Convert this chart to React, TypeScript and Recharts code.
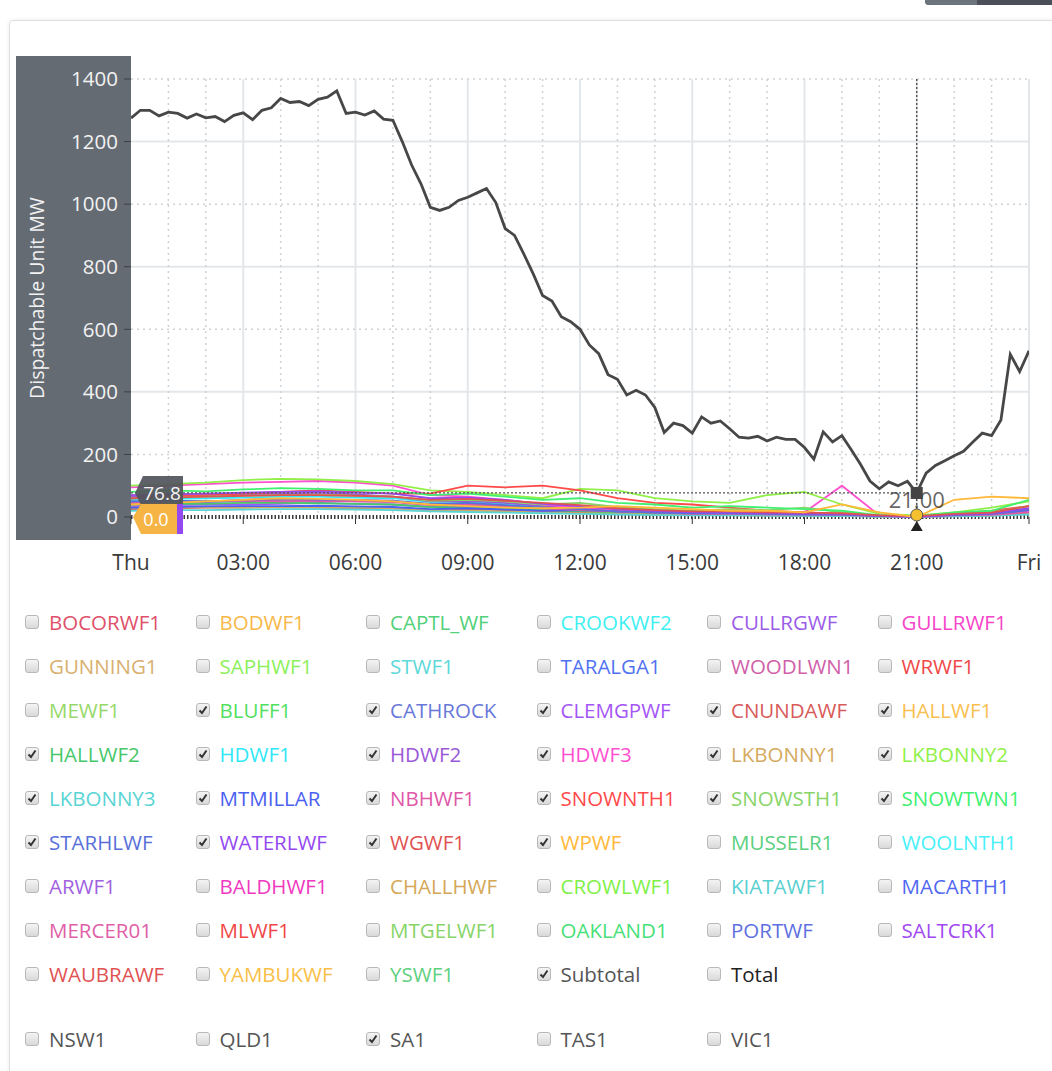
import React from 'react';
import { LineChart, Line, XAxis, YAxis, CartesianGrid, ReferenceLine, ReferenceDot, Label } from 'recharts';

// x axis: hours from Thu 00:00 to Fri 00:00
const hourTicks = [0, 3, 6, 9, 12, 15, 18, 21, 24];
const hourTickLabels = ['Thu', '03:00', '06:00', '09:00', '12:00', '15:00', '18:00', '21:00', 'Fri'];
const mwTicks = [0, 200, 400, 600, 800, 1000, 1200, 1400];

const solidGridY = [400, 800, 1200];
const dottedGridY = [200, 600, 1000, 1400];
const solidGridX = [3, 6, 9, 12, 15, 18, 21, 24];
const dottedGridX = [1, 2, 4, 5, 7, 8, 10, 11, 13, 14, 16, 17, 19, 20, 22, 23];

// Subtotal of the ticked SA1 units, one value every 15 minutes
const subtotalMW = [
  1275, 1300, 1300, 1282, 1294, 1290, 1275, 1288, 1276, 1280, 1264, 1284,
  1292, 1270, 1300, 1308, 1338, 1325, 1328, 1315, 1335, 1342, 1362, 1290,
  1294, 1285, 1298, 1272, 1268, 1200, 1125, 1065, 990, 980, 990, 1012,
  1022, 1036, 1050, 1005, 922, 900, 840, 777, 708, 690, 640, 624,
  600, 550, 522, 455, 440, 390, 405, 390, 350, 270, 300, 292,
  268, 320, 300, 307, 282, 255, 252, 258, 243, 255, 248, 248,
  222, 185, 272, 240, 260, 215, 168, 115, 90, 112, 100, 114,
  76.8, 140, 165, 180, 196, 210, 240, 268, 260, 310, 520, 465,
  531,
];

// hourly output of each ticked wind farm (MW), hour 0..24
const windHours = [0, 1, 2, 3, 4, 5, 6, 7, 8, 9, 10, 11, 12, 13, 14, 15, 16, 17, 18, 19, 20, 21, 22, 23, 24];
const BLUFF1 = [45, 48, 50, 52, 55, 55, 52, 50, 40, 45, 40, 30, 25, 20, 18, 15, 20, 15, 12, 10, 4, 2, 8, 12, 25];
const CATHROCK = [50, 52, 48, 50, 55, 55, 50, 50, 40, 38, 35, 25, 20, 15, 12, 10, 10, 8, 8, 6, 3, 2, 5, 8, 20];
const CLEMGPWF = [35, 38, 40, 40, 42, 45, 42, 40, 32, 35, 28, 20, 15, 12, 10, 8, 8, 6, 6, 5, 2, 0, 4, 8, 18];
const CNUNDAWF = [25, 28, 30, 30, 32, 30, 28, 28, 22, 25, 22, 18, 15, 10, 8, 6, 6, 5, 4, 4, 2, 1, 3, 5, 12];
const HALLWF1 = [70, 72, 75, 70, 75, 72, 70, 65, 55, 50, 45, 35, 30, 25, 20, 18, 15, 12, 10, 8, 5, 3, 10, 15, 25];
const HALLWF2 = [40, 42, 42, 45, 45, 44, 42, 40, 32, 30, 28, 22, 18, 12, 10, 8, 8, 6, 5, 4, 2, 1, 4, 6, 14];
const HDWF1 = [55, 58, 60, 62, 65, 65, 62, 60, 48, 50, 42, 32, 25, 20, 15, 12, 12, 10, 8, 8, 3, 2, 6, 8, 20];
const HDWF2 = [65, 68, 70, 72, 75, 78, 72, 65, 50, 52, 45, 35, 28, 22, 18, 14, 12, 10, 10, 8, 3, 2, 8, 10, 24];
const HDWF3 = [95, 100, 105, 110, 112, 115, 110, 100, 70, 65, 55, 40, 30, 20, 15, 12, 10, 8, 15, 100, 5, 2, 5, 10, 20];
const LKBONNY1 = [30, 30, 32, 30, 32, 32, 30, 28, 22, 20, 18, 14, 12, 10, 8, 6, 6, 5, 5, 4, 2, 1, 3, 5, 10];
const LKBONNY2 = [100, 105, 110, 118, 122, 120, 115, 105, 85, 80, 70, 60, 90, 85, 60, 50, 45, 70, 80, 40, 10, 5, 15, 30, 50];
const LKBONNY3 = [20, 22, 22, 24, 25, 25, 24, 22, 18, 16, 14, 12, 10, 8, 6, 5, 5, 4, 4, 3, 1, 1, 2, 4, 8];
const MTMILLAR = [30, 32, 34, 35, 35, 36, 34, 32, 25, 28, 24, 20, 22, 18, 15, 12, 14, 12, 10, 10, 4, 2, 8, 12, 22];
const NBHWF1 = [45, 48, 50, 52, 50, 52, 50, 48, 38, 40, 35, 28, 22, 18, 14, 10, 10, 8, 8, 6, 3, 2, 5, 7, 15];
const SNOWNTH1 = [60, 65, 70, 75, 80, 85, 80, 75, 75, 100, 95, 100, 85, 60, 45, 40, 30, 20, 15, 10, 5, 3, 10, 20, 35];
const SNOWSTH1 = [60, 62, 65, 68, 70, 70, 68, 65, 52, 55, 50, 40, 45, 32, 25, 20, 25, 22, 30, 15, 5, 2, 10, 15, 35];
const SNOWTWN1 = [80, 85, 82, 88, 92, 90, 85, 85, 70, 75, 65, 55, 60, 45, 40, 30, 35, 30, 25, 20, 5, 3, 15, 20, 55];
const STARHLWF = [50, 52, 50, 55, 58, 56, 55, 52, 42, 45, 38, 30, 25, 18, 14, 12, 12, 10, 8, 8, 3, 2, 6, 10, 22];
const WATERLWF = [70, 72, 75, 78, 80, 82, 78, 75, 60, 62, 55, 42, 35, 26, 20, 15, 14, 12, 10, 10, 4, 0, 8, 12, 28];
const WGWF1 = [60, 62, 65, 68, 70, 70, 68, 65, 55, 58, 52, 45, 38, 28, 22, 18, 18, 15, 14, 12, 5, 3, 10, 14, 35];
const WPWF = [40, 45, 50, 55, 60, 58, 55, 50, 40, 35, 30, 28, 30, 35, 30, 25, 20, 20, 15, 40, 15, 0, 55, 65, 60];

const units: [string, number[]][] = [
  ['BLUFF1', BLUFF1], ['CATHROCK', CATHROCK], ['CLEMGPWF', CLEMGPWF], ['CNUNDAWF', CNUNDAWF],
  ['HALLWF1', HALLWF1], ['HALLWF2', HALLWF2], ['HDWF1', HDWF1], ['HDWF2', HDWF2], ['HDWF3', HDWF3],
  ['LKBONNY1', LKBONNY1], ['LKBONNY2', LKBONNY2], ['LKBONNY3', LKBONNY3], ['MTMILLAR', MTMILLAR],
  ['NBHWF1', NBHWF1], ['SNOWNTH1', SNOWNTH1], ['SNOWSTH1', SNOWSTH1], ['SNOWTWN1', SNOWTWN1],
  ['STARHLWF', STARHLWF], ['WATERLWF', WATERLWF], ['WGWF1', WGWF1], ['WPWF', WPWF],
];

// legend rows as shown under the chart
const legendRows = [
  ['BOCORWF1', 'BODWF1', 'CAPTL_WF', 'CROOKWF2', 'CULLRGWF', 'GULLRWF1'],
  ['GUNNING1', 'SAPHWF1', 'STWF1', 'TARALGA1', 'WOODLWN1', 'WRWF1'],
  ['MEWF1', 'BLUFF1', 'CATHROCK', 'CLEMGPWF', 'CNUNDAWF', 'HALLWF1'],
  ['HALLWF2', 'HDWF1', 'HDWF2', 'HDWF3', 'LKBONNY1', 'LKBONNY2'],
  ['LKBONNY3', 'MTMILLAR', 'NBHWF1', 'SNOWNTH1', 'SNOWSTH1', 'SNOWTWN1'],
  ['STARHLWF', 'WATERLWF', 'WGWF1', 'WPWF', 'MUSSELR1', 'WOOLNTH1'],
  ['ARWF1', 'BALDHWF1', 'CHALLHWF', 'CROWLWF1', 'KIATAWF1', 'MACARTH1'],
  ['MERCER01', 'MLWF1', 'MTGELWF1', 'OAKLAND1', 'PORTWF', 'SALTCRK1'],
  ['WAUBRAWF', 'YAMBUKWF', 'YSWF1', 'Subtotal', 'Total'],
];
const regions = ['NSW1', 'QLD1', 'SA1', 'TAS1', 'VIC1'];
const checkedRegions = ['SA1'];

const colors: Record<string, string> = {
  BOCORWF1: '#e0506a', BODWF1: '#f7b84a', CAPTL_WF: '#52d07a', CROOKWF2: '#3ef0f0', CULLRGWF: '#9b5ce8', GULLRWF1: '#f545c8',
  GUNNING1: '#d8b070', SAPHWF1: '#8cf05a', STWF1: '#5ed8d8', TARALGA1: '#5072f0', WOODLWN1: '#d060a8', WRWF1: '#f04848',
  MEWF1: '#98d86a', BLUFF1: '#52e060', CATHROCK: '#6878d8', CLEMGPWF: '#a455f5', CNUNDAWF: '#d85a5a', HALLWF1: '#f8c050',
  HALLWF2: '#48c86a', HDWF1: '#30e8f8', HDWF2: '#9a58d8', HDWF3: '#ff50d0', LKBONNY1: '#d4aa60', LKBONNY2: '#90f048',
  LKBONNY3: '#58d4d4', MTMILLAR: '#4a60f0', NBHWF1: '#e058a8', SNOWNTH1: '#ff4a4a', SNOWSTH1: '#88d468', SNOWTWN1: '#40f070',
  STARHLWF: '#5870d8', WATERLWF: '#9448f0', WGWF1: '#e05252', WPWF: '#ffb838', MUSSELR1: '#5ad080', WOOLNTH1: '#48f0f8',
  ARWF1: '#a060e0', BALDHWF1: '#f038c0', CHALLHWF: '#d4a858', CROWLWF1: '#80f048', KIATAWF1: '#58d0d0', MACARTH1: '#5068f0',
  MERCER01: '#e060a8', MLWF1: '#f04848', MTGELWF1: '#88d468', OAKLAND1: '#48e078', PORTWF: '#6070e0', SALTCRK1: '#a048f0',
  WAUBRAWF: '#e05252', YAMBUKWF: '#f8c048', YSWF1: '#60d080', Subtotal: '#555555', Total: '#222222',
};

const subtotalRows = subtotalMW.map((v, i) => ({ t: i / 4, v }));
const unitRows = (vals: number[]) => windHours.map((t, i) => ({ t, v: vals[i] }));
const checkedUnits = units.map((u) => u[0]).concat(['Subtotal']);

const FONT = '"Open Sans", "Noto Sans", sans-serif';

function CheckBox({ checked }: { checked: boolean }) {
  return (
    <div style={{
      width: 14, height: 14, boxSizing: 'border-box', border: '1px solid #b8b8b8', borderRadius: 3,
      background: 'linear-gradient(#f4f4f4, #d9d9d9)', flex: 'none', position: 'relative',
    }}>
      {checked && (
        <svg width={14} height={14} style={{ position: 'absolute', left: -1, top: -1 }}>
          <path d="M3.5 7.5 L6 10 L10.5 3.5" stroke="#333" strokeWidth={2} fill="none" />
        </svg>
      )}
    </div>
  );
}

function LegendItem({ name, checked, color, left, top }: { name: string; checked: boolean; color: string; left: number; top: number }) {
  return (
    <div style={{ position: 'absolute', left, top, height: 24, display: 'flex', alignItems: 'center' }}>
      <CheckBox checked={checked} />
      <span style={{ marginLeft: 10, fontSize: 20.5, color, whiteSpace: 'nowrap', fontFamily: FONT }}>{name}</span>
    </div>
  );
}

const YValueTag = (props: any) => {
  const { cx, cy } = props;
  return (
    <g>
      <path d={`M${cx + 4} ${cy} L${cx + 12} ${cy - 17} L${cx + 52} ${cy - 17} L${cx + 52} ${cy + 16} L${cx + 12} ${cy + 16} Z`} fill="#50555b" fillOpacity={0.92} />
      <text x={cx + 31} y={cy + 7} textAnchor="middle" fill="#f4f4f4" fontSize={19} fontFamily={FONT}>76.8</text>
    </g>
  );
};

const ZeroTag = (props: any) => {
  const { cx, cy } = props;
  return (
    <g>
      <path d={`M${cx + 10} ${cy} L${cx + 18} ${cy - 13} L${cx + 52} ${cy - 13} L${cx + 52} ${cy + 17} L${cx + 18} ${cy + 17} Z`} fill="#9448f0" />
      <path d={`M${cx + 2} ${cy} L${cx + 10} ${cy - 13} L${cx + 46} ${cy - 13} L${cx + 46} ${cy + 17} L${cx + 10} ${cy + 17} Z`} fill="#f5b444" />
      <text x={cx + 25} y={cy + 9} textAnchor="middle" fill="#ffffff" fontSize={18} fontFamily={FONT}>0.0</text>
    </g>
  );
};

const CursorMarks = (props: any) => {
  const { cx, cy } = props;
  return (
    <g>
      <path d={`M${cx - 6} ${cy + 14} L${cx + 6} ${cy + 14} L${cx} ${cy + 4} Z`} fill="#222" />
      <circle cx={cx} cy={cy - 2} r={6} fill="#f5c030" stroke="#555" strokeWidth={1} />
    </g>
  );
};

const SubtotalMark = (props: any) => {
  const { cx, cy } = props;
  return <rect x={cx - 6} y={cy - 6} width={12} height={12} fill="#444" />;
};

const TimeTag = (props: any) => {
  const { cx, cy } = props;
  return (
    <text x={cx} y={cy} textAnchor="middle" fill="#3c3c3c" fillOpacity={0.8} fontSize={22} fontFamily={FONT}>21:00</text>
  );
};

export default function App() {
  return (
    <div style={{ position: 'absolute', left: 0, top: 0, width: 1052, height: 1071, overflow: 'hidden', background: '#fff', fontFamily: FONT }}>
      <div style={{ position: 'absolute', left: 925, top: -6, width: 140, height: 11, background: '#4b5058', borderRadius: 4 }} />
      <div style={{ position: 'absolute', left: 925, top: -6, width: 52, height: 11, background: '#6e747c', borderRadius: '4px 0 0 4px' }} />
      <div style={{ position: 'absolute', left: 9, top: 20, width: 1100, height: 1100, border: '1px solid #e0e0e0', borderRadius: 4, boxShadow: '0 0 4px rgba(0,0,0,0.08)' }} />
      <div style={{ position: 'absolute', left: 16, top: 56, width: 115, height: 484, background: '#656b72' }} />
      <div style={{ position: 'absolute', left: 0, top: 0 }}>
        <LineChart width={1052} height={600} margin={{ top: 79, right: 23, bottom: 43, left: 16 }}>
          <CartesianGrid horizontalValues={solidGridY} verticalValues={solidGridX} stroke="#e4e7ea" strokeWidth={2} />
          <CartesianGrid horizontalValues={dottedGridY} verticalValues={dottedGridX} stroke="#cfd2d5" strokeWidth={1.5} strokeDasharray="2 4" />
          <XAxis
            dataKey="t"
            type="number"
            domain={[0, 24]}
            ticks={hourTicks}
            allowDataOverflow
            tickFormatter={(v: number) => hourTickLabels[hourTicks.indexOf(v)]}
            tick={{ fontSize: 21, fill: '#3a3a3a', fontFamily: FONT }}
            axisLine={false}
            tickLine={{ stroke: '#333' }}
            tickSize={7}
            tickMargin={31}
            height={40}
          />
          <YAxis
            type="number"
            domain={[0, 1400]}
            ticks={mwTicks}
            width={115}
            tick={{ fontSize: 20.5, fill: '#f2f2f2', fontFamily: FONT }}
            axisLine={false}
            tickLine={{ stroke: '#3b4046' }}
            tickSize={7}
            tickMargin={6}
          >
            <Label
              content={() => (
                <text x={44} y={298} transform="rotate(-90 44 298)" textAnchor="middle" fill="#f2f2f2" fontSize={19.5} fontFamily={FONT}>
                  Dispatchable Unit MW
                </text>
              )}
            />
          </YAxis>
          <ReferenceLine y={0} stroke="#3a3a3a" strokeWidth={4} strokeDasharray="1.5 2" />
          {units.map(([name, vals]) => (
            <Line
              key={name}
              data={unitRows(vals)}
              dataKey="v"
              name={name}
              type="linear"
              stroke={colors[name]}
              strokeWidth={1.8}
              dot={false}
              isAnimationActive={false}
            />
          ))}
          <Line
            data={subtotalRows}
            dataKey="v"
            name="Subtotal"
            type="linear"
            stroke="#474747"
            strokeWidth={2.8}
            dot={false}
            isAnimationActive={false}
          />
          <ReferenceLine x={21} stroke="#444" strokeWidth={1.3} strokeDasharray="2 2" />
          <ReferenceLine segment={[{ x: 0, y: 76.8 }, { x: 21, y: 76.8 }]} stroke="#555" strokeWidth={1.3} strokeDasharray="2 2" />
          <ReferenceDot x={21} y={30} shape={TimeTag} />
          <ReferenceDot x={21} y={76.8} shape={SubtotalMark} />
          <ReferenceDot x={21} y={0} shape={CursorMarks} />
          <ReferenceDot x={0} y={76.8} shape={YValueTag} />
          <ReferenceDot x={0} y={0} shape={ZeroTag} />
        </LineChart>
      </div>
      {legendRows.map((row, r) =>
        row.map((name, c) => (
          <LegendItem
            key={name}
            name={name}
            checked={checkedUnits.includes(name)}
            color={colors[name]}
            left={25 + c * 170.5}
            top={610 + r * 44}
          />
        ))
      )}
      {regions.map((name, c) => (
        <LegendItem key={name} name={name} checked={checkedRegions.includes(name)} color="#555" left={25 + c * 170.5} top={1027} />
      ))}
    </div>
  );
}
